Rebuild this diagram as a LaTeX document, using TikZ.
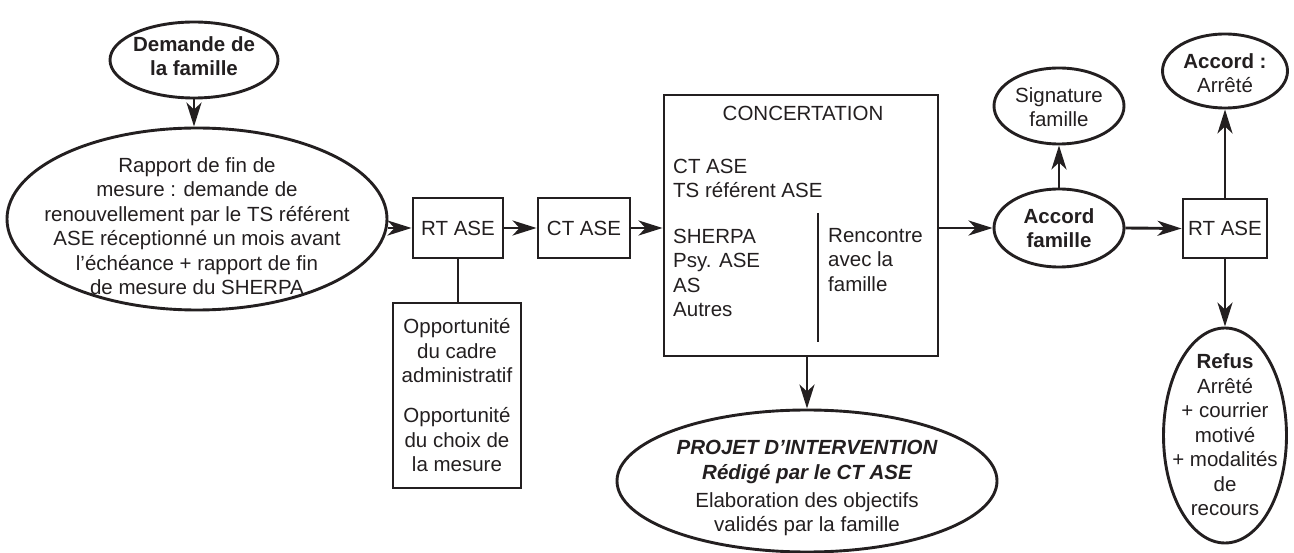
\documentclass[tikz,border=0pt]{standalone}
\usepackage{fontspec}
\setmainfont{Liberation Sans}
\usetikzlibrary{shapes.geometric,arrows.meta}
\definecolor{ink}{HTML}{231F20}
\newcommand\dfsize{\fontsize{20.5}{24.5}\selectfont}
\begin{document}
\begin{tikzpicture}[x=1pt,y=-1pt,
  every node/.style={text=ink, font=\dfsize},
  line/.style={draw=ink, line width=2.9pt},
  arr/.style={line, -{Stealth[length=24pt,width=15pt,inset=7pt]}},
  box/.style={draw=ink, line width=2.9pt, rectangle, inner sep=0pt},
  oval/.style={draw=ink, line width=2.9pt, ellipse, inner sep=0pt},
  txt/.style={align=center, inner sep=0pt},
  lft/.style={align=left, inner sep=0pt, anchor=west},
  bold/.style={font=\dfsize\bfseries}]
\useasboundingbox (0,0) rectangle (1294,553);

% request and report
\node[oval, minimum width=168pt, minimum height=76pt] (demande) at (194,60) {};
\node[txt, bold] at (194,56) {Demande de\\la famille};
\node[oval, minimum width=380pt, minimum height=182pt] (rapport) at (197,219) {};
\node[txt] at (197,226) {Rapport de fin de\\mesure : demande de\\renouvellement par le TS référent\\ASE réceptionné un mois avant\\l’échéance + rapport de fin\\de mesure du SHERPA};

% first boxes
\node[box, minimum width=90pt, minimum height=60pt] (rt1) at (458,228) {RT ASE};
\node[box, minimum width=92pt, minimum height=60pt] (ct) at (584,228) {CT ASE};
\node[box, minimum width=128pt, minimum height=185pt] (opp) at (457,395.5) {};
\node[txt] at (457,351) {Opportunité\\du cadre\\administratif};
\node[txt] at (457,440) {Opportunité\\du choix de\\la mesure};

% concertation
\node[box, minimum width=274pt, minimum height=261pt] (conc) at (801,225.5) {};
\node at (803,113) {CONCERTATION};
\node[lft] at (673,178.5) {CT ASE\\TS référent ASE};
\node[lft] at (673,273) {SHERPA\\Psy. ASE\\AS\\Autres};
\node[lft] at (828,260) {Rencontre\\avec la\\famille};
\draw[line] (818,213) -- (818,342);

% intervention project
\node[oval, minimum width=380pt, minimum height=142pt] (projet) at (807,481) {};
\node[txt, font=\dfsize\bfseries\itshape] at (807,462) {PROJET D’INTERVENTION\\Rédigé par le CT ASE};
\node[txt] at (807,514) {Elaboration des objectifs\\validés par la famille};

% family agreement and decision
\node[oval, minimum width=130pt, minimum height=78pt] (af) at (1059,228) {};
\node[txt, bold] at (1059,228) {Accord\\famille};
\node[oval, minimum width=130pt, minimum height=76pt] (sig) at (1059,106) {};
\node[txt] at (1059,107) {Signature\\famille};
\node[box, minimum width=84pt, minimum height=59pt] (rt2) at (1225,228.5) {RT ASE};
\node[oval, minimum width=125pt, minimum height=74pt] (acc) at (1225,71) {};
\node[txt] at (1225,73) {\textbf{Accord :}\\Arrêté};
\node[oval, minimum width=123pt, minimum height=215pt] (refus) at (1225,435.5) {};
\node[txt] at (1225,435) {\textbf{Refus}\\Arrêté\\+ courrier\\motivé\\+ modalités\\de\\recours};

% connectors
\draw[arr] (demande.south) -- (demande.south |- rapport.north);
\draw[arr] (rapport.east |- rt1.west) -- (rt1.west);
\draw[line] (rt1.south) -- (rt1.south |- opp.north);
\draw[arr] (rt1.east) -- (ct.west);
\draw[arr] (ct.east) -- (ct.east -| conc.west);
\draw[arr] (projet.north |- conc.south) -- (projet.north);
\draw[arr] (conc.east |- af.west) -- (af.west);
\draw[arr] (af.north) -- (sig.south);
\draw[arr] (af.east) -- (rt2.west);
\draw[arr] (rt2.north) -- (acc.south);
\draw[arr] (rt2.south) -- (refus.north);
\end{tikzpicture}
\end{document}
